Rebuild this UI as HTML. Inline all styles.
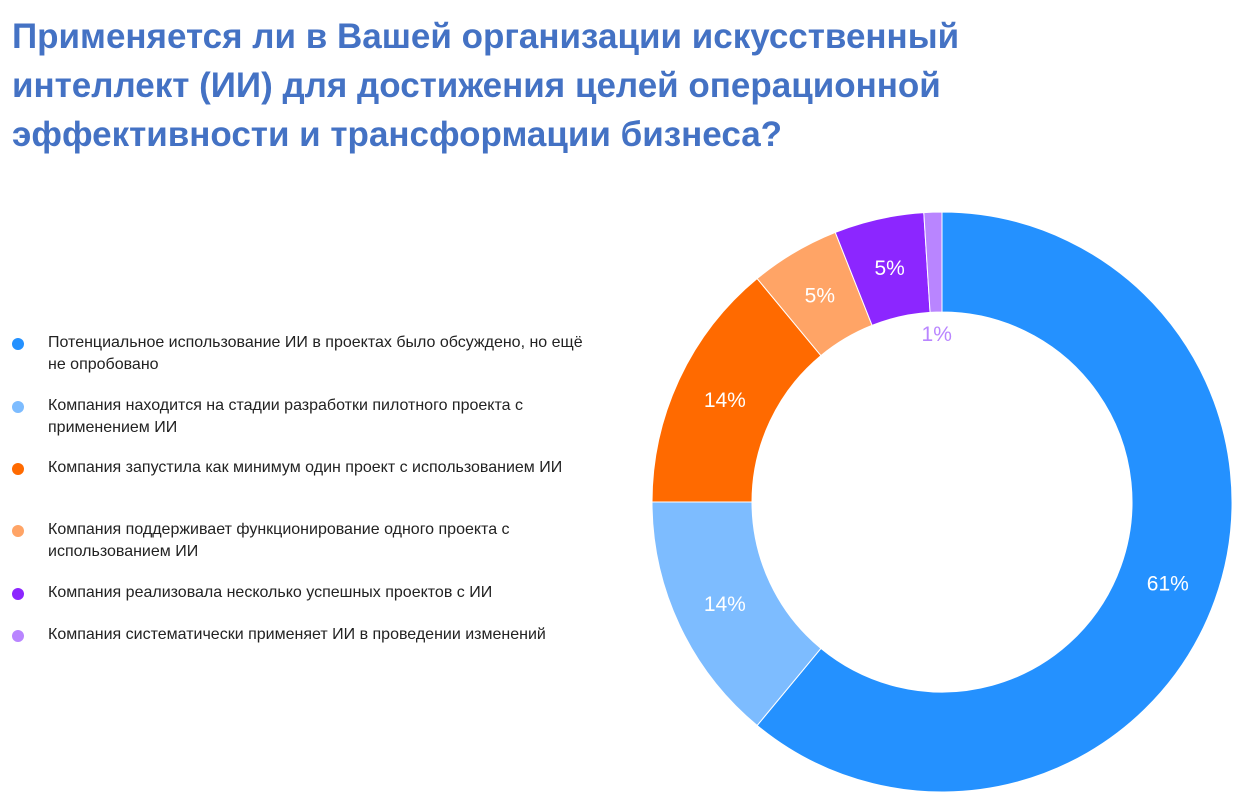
<!DOCTYPE html>
<html><head><meta charset="utf-8">
<style>
body{margin:0;width:1253px;height:810px;background:#fff;position:relative;overflow:hidden;font-family:"Liberation Sans","Noto Sans CJK SC",sans-serif;}
h1{position:absolute;left:12px;top:12px;margin:0;font-size:35px;line-height:49px;font-weight:bold;color:#4472C4;width:1100px;}
.leg{position:absolute;left:12px;font-size:16px;line-height:22px;color:#222;}
.leg .dot{position:absolute;left:0;top:6px;width:12px;height:12px;border-radius:50%;}
.leg .t{margin-left:36px;width:540px;}
svg{position:absolute;left:0;top:0;}
</style></head><body>
<h1>Применяется ли в Вашей организации искусственный интеллект (ИИ) для достижения целей операционной эффективности и трансформации бизнеса?</h1>
<div class="leg" style="top:332px"><span class="dot" style="background:#2491FF"></span><div class="t">Потенциальное использование ИИ в проектах было обсуждено, но ещё не опробовано</div></div>
<div class="leg" style="top:395px"><span class="dot" style="background:#7DBCFF"></span><div class="t">Компания находится на стадии разработки пилотного проекта с применением ИИ</div></div>
<div class="leg" style="top:457px"><span class="dot" style="background:#FF6A00"></span><div class="t">Компания запустила как минимум один проект с использованием ИИ</div></div>
<div class="leg" style="top:519px"><span class="dot" style="background:#FFA466"></span><div class="t">Компания поддерживает функционирование одного проекта с использованием ИИ</div></div>
<div class="leg" style="top:582px"><span class="dot" style="background:#8C26FF"></span><div class="t">Компания реализовала несколько успешных проектов с ИИ</div></div>
<div class="leg" style="top:624px"><span class="dot" style="background:#B985FF"></span><div class="t">Компания систематически применяет ИИ в проведении изменений</div></div>
<svg id="chart" width="1253" height="810"></svg>
<script>
const categories=["Обсуждено","Пилот","Один проект","Поддержка","Несколько","Систематически"];
const values=[61,14,14,5,5,1];
const labels=["61%","14%","14%","5%","5%","1%"];
const colors=["#2491FF","#7DBCFF","#FF6A00","#FFA466","#8C26FF","#B985FF"];
const cx=942,cy=502,R=290,r=190;
const svg=document.getElementById('chart');
const NS='http://www.w3.org/2000/svg';
const total=values.reduce((a,b)=>a+b,0);
function pt(a,rad){return [cx+rad*Math.sin(a),cy-rad*Math.cos(a)];}
let acc=0;
values.forEach((v,i)=>{
  const a0=acc/total*2*Math.PI; acc+=v; const a1=acc/total*2*Math.PI;
  const large=(a1-a0)>Math.PI?1:0;
  const p0=pt(a0,R),p1=pt(a1,R),q1=pt(a1,r),q0=pt(a0,r);
  const p=document.createElementNS(NS,'path');
  p.setAttribute('d',`M${p0[0]},${p0[1]} A${R},${R} 0 ${large} 1 ${p1[0]},${p1[1]} L${q1[0]},${q1[1]} A${r},${r} 0 ${large} 0 ${q0[0]},${q0[1]} Z`);
  p.setAttribute('fill',colors[i]);
  p.setAttribute('stroke','#fff');p.setAttribute('stroke-width','1');
  
  
  svg.appendChild(p);
  const am=(a0+a1)/2;
  const small=v<3;
  const lp=pt(am,small?168:240);
  const t=document.createElementNS(NS,'text');
  t.setAttribute('x',lp[0]);t.setAttribute('y',lp[1]+7);
  t.setAttribute('text-anchor','middle');
  t.setAttribute('font-size','21');
  t.setAttribute('font-family','Liberation Sans, sans-serif');
  t.setAttribute('fill',small?colors[i]:'#fff');
  t.textContent=labels[i];
  
  
  svg.appendChild(t);
});
</script>
</body></html>
